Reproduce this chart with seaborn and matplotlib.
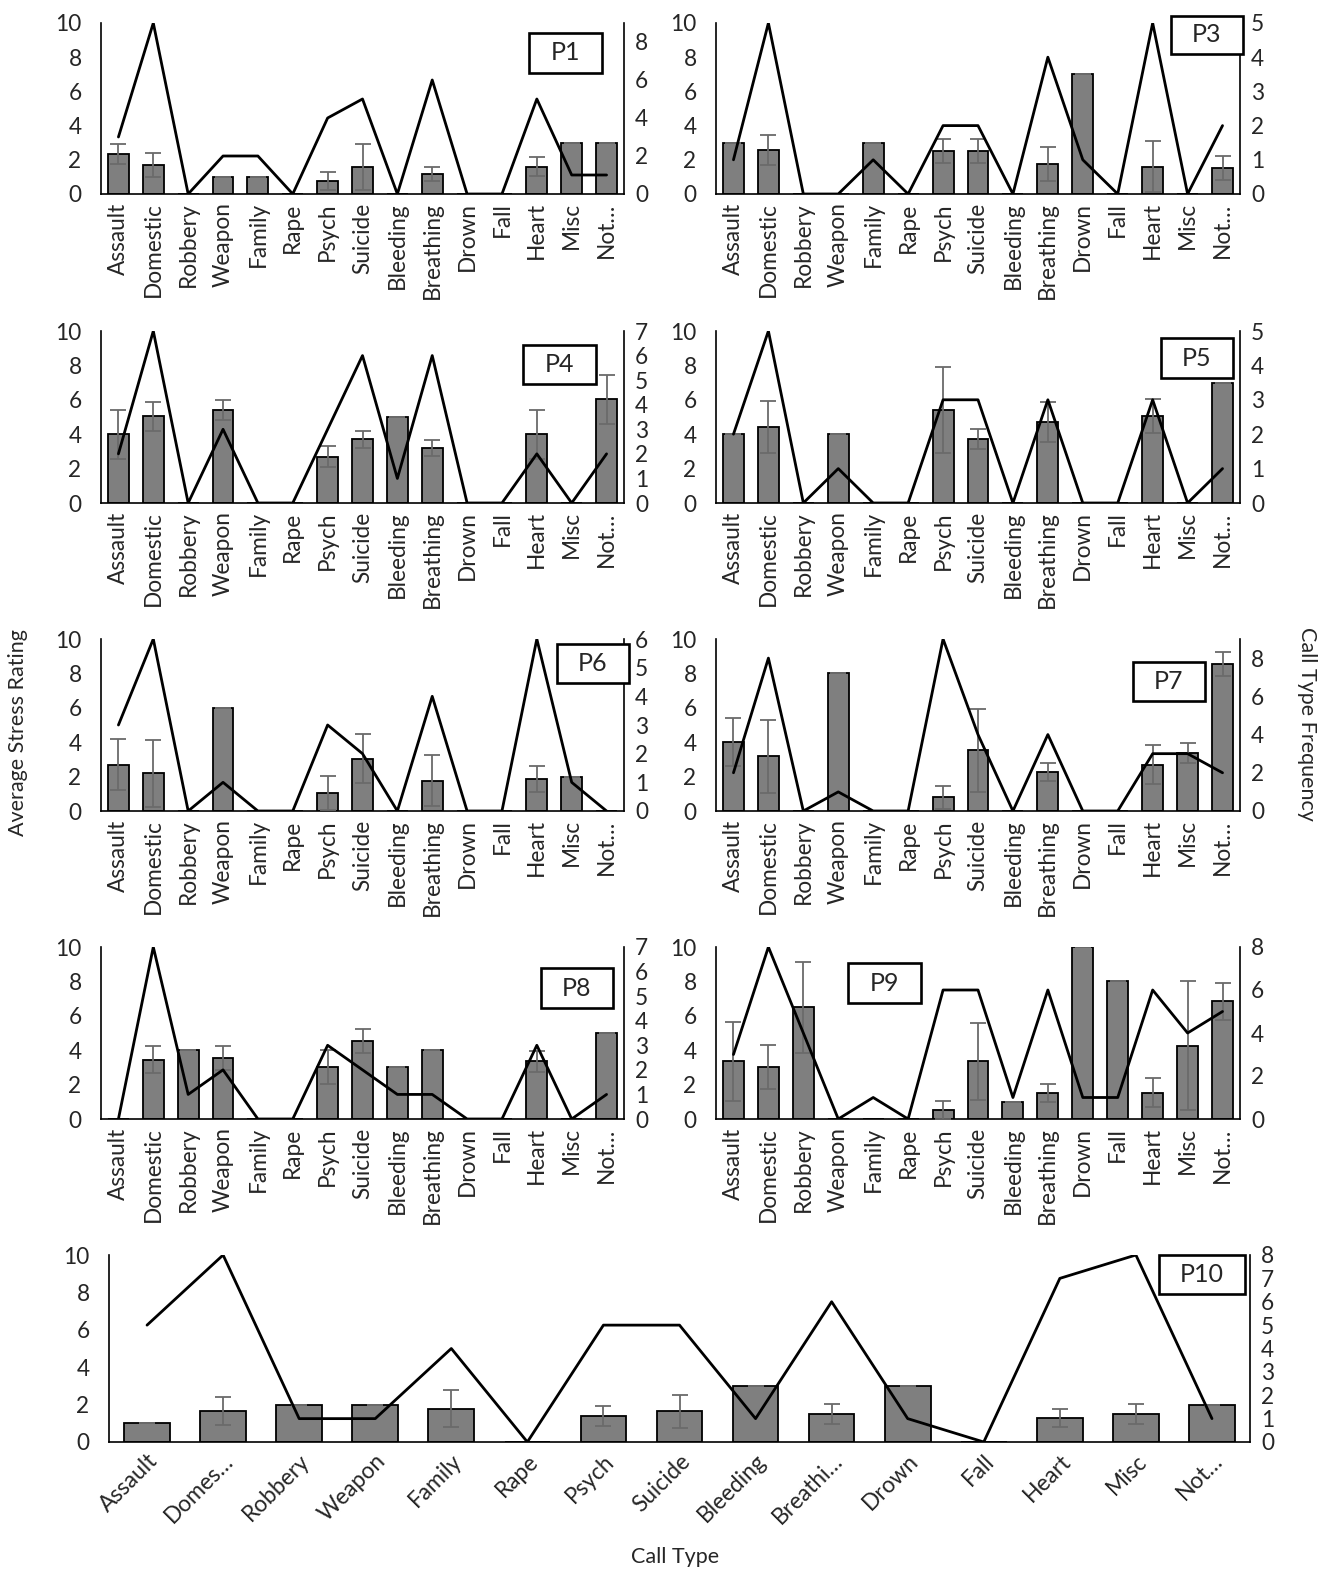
import numpy as np
import matplotlib
matplotlib.use("Agg")
import matplotlib.pyplot as plt
import matplotlib.patches as patches
import seaborn as sns

nan = np.nan

cats = ['Assault', 'Domestic', 'Robbery', 'Weapon', 'Family', 'Rape', 'Psych', 'Suicide',
        'Bleeding', 'Breathing', 'Drown', 'Fall', 'Heart', 'Misc', 'Not…']
cats_p10 = ['Assault', 'Domes…', 'Robbery', 'Weapon', 'Family', 'Rape', 'Psych', 'Suicide',
            'Bleeding', 'Breathi…', 'Drown', 'Fall', 'Heart', 'Misc', 'Not…']

# average stress rating (bars), error (sd), call type frequency (line)
p1_stress = [2.35, 1.67, 0, 1.0, 1.0, 0, 0.76, 1.6, 0, 1.17, 0, 0, 1.6, 3.0, 3.0]
p1_err = [0.58, 0.7, nan, 0, 0, nan, 0.5, 1.35, nan, 0.4, nan, nan, 0.55, 0, 0]
p1_freq = [3, 9, 0, 2, 2, 0, 4, 5, 0, 6, 0, 0, 5, 1, 1]

p3_stress = [3.0, 2.58, 0, 0, 3.0, 0, 2.5, 2.5, 0, 1.75, 7.0, 0, 1.6, 0, 1.5]
p3_err = [0, 0.87, nan, nan, 0, nan, 0.7, 0.7, nan, 0.97, 0, nan, 1.5, nan, 0.7]
p3_freq = [1, 5, 0, 0, 1, 0, 2, 2, 0, 4, 1, 0, 5, 0, 2]

p4_stress = [4.0, 5.05, 0, 5.4, 0, 0, 2.7, 3.7, 5.0, 3.2, 0, 0, 4.0, 0, 6.04]
p4_err = [1.42, 0.84, nan, 0.6, nan, nan, 0.6, 0.5, 0, 0.45, nan, nan, 1.42, nan, 1.42]
p4_freq = [2, 7, 0, 3, 0, 0, 3, 6, 1, 6, 0, 0, 2, 0, 2]

p5_stress = [4.0, 4.43, 0, 4.0, 0, 0, 5.38, 3.7, 0, 4.7, 0, 0, 5.05, 0, 7.0]
p5_err = [0, 1.5, nan, 0, nan, nan, 2.5, 0.58, nan, 1.15, nan, nan, 1.0, nan, 0]
p5_freq = [2, 5, 0, 1, 0, 0, 3, 3, 0, 3, 0, 0, 3, 0, 1]

p6_stress = [2.7, 2.2, 0, 6.0, 0, 0, 1.03, 3.03, 0, 1.77, 0, 0, 1.86, 2.0, 0]
p6_err = [1.5, 1.95, nan, 0, nan, nan, 1.0, 1.42, nan, 1.5, nan, nan, 0.75, 0, nan]
p6_freq = [3, 6, 0, 1, 0, 0, 3, 2, 0, 4, 0, 0, 6, 1, 0]

p7_stress = [4.0, 3.17, 0, 8.0, 0, 0, 0.8, 3.53, 0, 2.27, 0, 0, 2.7, 3.36, 8.56]
p7_err = [1.4, 2.1, nan, 0, nan, nan, 0.67, 2.4, nan, 0.5, nan, nan, 1.15, 0.58, 0.7]
p7_freq = [2, 8, 0, 1, 0, 0, 9, 4, 0, 4, 0, 0, 3, 3, 2]

p8_stress = [0, 3.45, 4.0, 3.53, 0, 0, 3.02, 4.53, 3.0, 4.0, 0, 0, 3.35, 0, 5.0]
p8_err = [nan, 0.8, 0, 0.7, nan, nan, 1.0, 0.7, 0, 0, nan, nan, 0.6, nan, 0]
p8_freq = [0, 7, 1, 2, 0, 0, 3, 2, 1, 1, 0, 0, 3, 0, 1]

p9_stress = [3.35, 3.02, 6.5, 0, 0, 0, 0.52, 3.35, 1.0, 1.53, 10.0, 8.0, 1.53, 4.26, 6.84]
p9_err = [2.3, 1.3, 2.65, nan, nan, nan, 0.5, 2.25, 0, 0.53, 0, 0, 0.85, 3.76, 1.06]
p9_freq = [3, 8, 4, 0, 1, 0, 6, 6, 1, 6, 1, 1, 6, 4, 5]

p10_stress = [1.0, 1.64, 2.0, 2.0, 1.78, 0, 1.4, 1.64, 3.0, 1.5, 3.0, 0, 1.3, 1.5, 2.0]
p10_err = [0, 0.75, 0, 0, 0.98, nan, 0.54, 0.9, 0, 0.55, 0, nan, 0.48, 0.53, 0]
p10_freq = [5, 8, 1, 1, 4, 0, 5, 5, 1, 6, 1, 0, 7, 8, 1]

sns.set_style("white")
plt.rcParams['font.family'] = ['Lato', 'DejaVu Sans']

W, H = 1323, 1572
fig = plt.figure(figsize=(W / 100, H / 100), dpi=100)


def rect(l, t, r, b):
    return [l / W, 1 - b / H, (r - l) / W, (b - t) / H]


def panel(name, box, pos, labels, stress, err, freq, rmax, rstep, rot=90, fs=16.3):
    ax = fig.add_axes(rect(*pos))
    x = np.arange(len(labels))
    sns.barplot(x=x, y=stress, ax=ax, color='#7f7f7f', saturation=1, width=0.6,
                edgecolor='black', linewidth=1.3)
    ax.errorbar(x, stress, yerr=err, fmt='none', ecolor='#6a6a6a', elinewidth=1.3,
                capsize=5.5, capthick=1.3, zorder=5)
    ax.set_ylim(0, 10)
    ax.set_yticks(range(0, 11, 2))
    ax.set_xlim(-0.5, len(labels) - 0.5)
    ax.set_xticks(x)
    if rot == 90:
        ax.set_xticklabels(labels, rotation=90, ha='center', va='top', fontsize=fs)
    else:
        ax.set_xticklabels(labels, rotation=45, ha='right', va='top',
                           rotation_mode='anchor', fontsize=fs)
    ax.tick_params(axis='both', length=0, labelsize=fs, pad=6)
    ax.tick_params(axis='y', pad=14)
    ax.set_xlabel('')
    ax.set_ylabel('')
    for s in ['top', 'right']:
        ax.spines[s].set_visible(False)
    for s in ['left', 'bottom']:
        ax.spines[s].set_color('black')
        ax.spines[s].set_linewidth(1.2)

    ax2 = ax.twinx()
    sns.lineplot(x=x, y=freq, ax=ax2, color='black', linewidth=2.0)
    ax2.set_ylim(0, rmax)
    ax2.set_yticks(np.arange(0, rmax + 0.01, rstep))
    ax2.set_xlim(-0.5, len(labels) - 0.5)
    ax2.tick_params(axis='y', length=0, labelsize=fs, pad=8)
    ax2.set_ylabel('')
    for s in ['top', 'left', 'bottom']:
        ax2.spines[s].set_visible(False)
    ax2.spines['right'].set_color('black')
    ax2.spines['right'].set_linewidth(1.2)

    l, t, r, b = box
    fig.patches.append(patches.Rectangle((l / W, 1 - b / H), (r - l) / W, (b - t) / H,
                                         transform=fig.transFigure, facecolor='white',
                                         edgecolor='black', linewidth=1.9, zorder=10))
    fig.text((l + r) / 2 / W, 1 - (t + b) / 2 / H, name, ha='center', va='center',
             fontsize=18, zorder=11)


L1, R1 = 101, 624
L2, R2 = 716, 1240
panel('P1', (529, 33, 602, 73), (L1, 23, R1, 194), cats, p1_stress, p1_err, p1_freq, 9, 2)
panel('P3', (1171, 16, 1243, 54), (L2, 23, R2, 194), cats, p3_stress, p3_err, p3_freq, 5, 1)
panel('P4', (523, 345, 596, 384), (L1, 331, R1, 503), cats, p4_stress, p4_err, p4_freq, 7, 1)
panel('P5', (1161, 338, 1233, 378), (L2, 331, R2, 503), cats, p5_stress, p5_err, p5_freq, 5, 1)
panel('P6', (557, 644, 629, 683), (L1, 639, R1, 811), cats, p6_stress, p6_err, p6_freq, 6, 1)
panel('P7', (1133, 662, 1205, 701), (L2, 639, R2, 811), cats, p7_stress, p7_err, p7_freq, 9, 2)
panel('P8', (541, 968, 613, 1008), (L1, 947, R1, 1119), cats, p8_stress, p8_err, p8_freq, 7, 1)
panel('P9', (848, 963, 921, 1003), (L2, 947, R2, 1119), cats, p9_stress, p9_err, p9_freq, 8, 2)
panel('P10', (1159, 1255, 1245, 1294), (109, 1255, 1250, 1442), cats_p10, p10_stress, p10_err,
      p10_freq, 8, 1, rot=45)

fig.text(18 / W, 1 - 733 / H, 'Average Stress Rating', rotation=90, ha='center', va='center',
         fontsize=15.5)
fig.text(1307 / W, 1 - 724 / H, 'Call Type Frequency', rotation=-90, ha='center', va='center',
         fontsize=15.5)
fig.text(675 / W, 1 - 1557 / H, 'Call Type', ha='center', va='center', fontsize=15.5)

fig.savefig('out.png', dpi=100)
